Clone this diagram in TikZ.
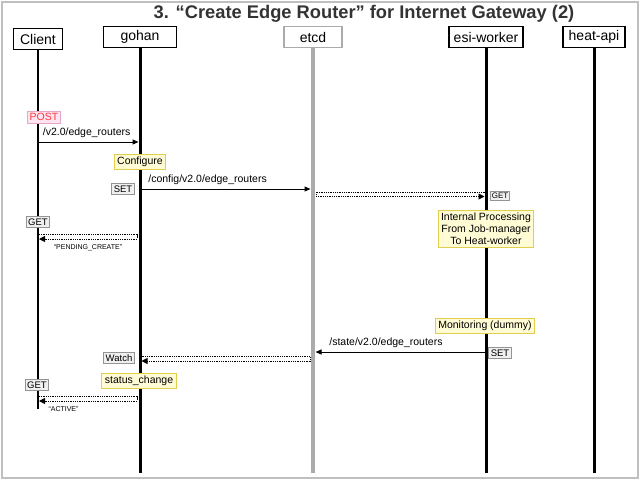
\documentclass[tikz,border=0pt]{standalone}
\usepackage{fontspec}
\setmainfont{Liberation Sans}
\usetikzlibrary{arrows.meta}

\definecolor{notefill}{HTML}{FFFBD4}
\definecolor{notedraw}{HTML}{E2CE4E}
\definecolor{postfill}{HTML}{FCE4F2}
\definecolor{postdraw}{HTML}{E6A6C6}
\definecolor{posttext}{HTML}{FF3B3B}
\definecolor{opfill}{HTML}{F0F0F0}
\definecolor{opdraw}{HTML}{949494}
\definecolor{etcdgray}{HTML}{ABABAB}
\definecolor{titlegray}{HTML}{333333}

\begin{document}
\begin{tikzpicture}[x=1pt,y=-1pt]
\tikzstyle{every node}+=[font=\fontsize{10.5}{12}\selectfont]
\tikzstyle{head}=[draw=black,line width=1.2pt,fill=white,font=\fontsize{14}{16}\selectfont,minimum height=21pt,inner sep=1pt]
\tikzstyle{note}=[draw=notedraw,fill=notefill,line width=1pt,inner sep=3pt,align=center]
\tikzstyle{op}=[draw=opdraw,fill=opfill,line width=0.8pt,inner sep=2pt,font=\fontsize{9.5}{11}\selectfont]
\tikzstyle{call}=[line width=1pt,-{Triangle[length=6pt,width=5pt]}]
\tikzstyle{rail}=[line width=0.9pt,dash pattern=on 0.9pt off 0.9pt]
\tikzstyle{railtip}=[rail,-{Triangle[length=6pt,width=6pt]}]
\tikzstyle{small}=[font=\fontsize{7}{8}\selectfont]
\useasboundingbox (0,0) rectangle (640,480);
\draw [black!25,line width=1.5pt] (2,2) rectangle (638,478);
\node [titlegray,font=\bfseries\fontsize{18.3}{20}\selectfont] (title) at (364,14) {3. “Create Edge Router” for Internet Gateway (2)};
\node [head,minimum width=49pt] (client) at (38,39) {Client};
\node [head,minimum width=73pt] (gohan) at (140,37) {gohan};
\node [head,draw=etcdgray,minimum width=58pt] (etcd) at (313,37) {etcd};
\node [head,minimum width=74pt] (esi) at (486,37) {esi-worker};
\node [head,minimum width=62pt] (heat) at (594,37) {heat-api};
\coordinate (clientend) at (client |- 0,409);
\coordinate (gohanend) at (gohan |- 0,473);
\coordinate (etcdend) at (etcd |- 0,473);
\coordinate (esiend) at (esi |- 0,473);
\coordinate (heatend) at (heat |- 0,473);
\draw [line width=1.2pt] (client.south) -- (clientend);
\draw [line width=3pt] (gohan.south) -- (gohanend);
\draw [etcdgray,line width=4.5pt] (etcd.south) -- (etcdend);
\draw [line width=3pt] (esi.south) -- (esiend);
\draw [line width=3pt] (heat.south) -- (heatend);
\node [draw=postdraw,fill=postfill,text=posttext,line width=0.8pt,inner sep=2.3pt] (post) at (44,117) {POST};
\draw [call] (client |- 0,142) -- ([xshift=-1.5pt]gohan |- 0,142) node [pos=0,above right,xshift=1pt] (req1) {/v2.0/edge\_routers};
\node [note] (configure) at (140,162) {Configure};
\node [op] (set1) at (123,189) {SET};
\draw [call] ([xshift=1.5pt]gohan |- 0,189) -- ([xshift=-2.5pt]etcd |- 0,189) node [pos=0,above right,xshift=3pt] (req2) {/config/v2.0/edge\_routers};
\coordinate (r1a) at ([xshift=3pt]etcd |- 0,196.5);
\coordinate (r1b) at ([xshift=-1.5pt]esi |- 0,196.5);
\draw [rail] (r1a) -- ([yshift=4.5pt]r1a) -- ([yshift=4.5pt]r1b);
\draw [railtip] (r1a) -- (r1b);
\node [op,font=\fontsize{8}{9}\selectfont,inner sep=1.5pt] (get1) at (500,196) {GET};
\node [note] (internal) at (486,229) {Internal Processing\\From Job-manager\\To Heat-worker};
\node [op] (get2) at (38,222) {GET};
\coordinate (r2a) at ([xshift=-3pt]gohan |- 0,239);
\coordinate (r2b) at ([xshift=1pt]client |- 0,239);
\draw [rail] ([yshift=4.5pt]r2b) -- ([yshift=4.5pt]r2a) -- (r2a);
\draw [railtip] (r2a) -- (r2b) node [pos=0.5,below,small,yshift=-1.5pt] (pending) {“PENDING\_CREATE”};
\node [note] (monitor) at (485,326) {Monitoring (dummy)};
\draw [call] ([xshift=-1.5pt]esi |- 0,352) -- ([xshift=2.5pt]etcd |- 0,352) node [pos=1,above right,xshift=10pt] (req3) {/state/v2.0/edge\_routers};
\node [op] (set2) at (500,353) {SET};
\coordinate (r3a) at ([xshift=-3pt]etcd |- 0,361);
\coordinate (r3b) at ([xshift=1.5pt]gohan |- 0,361);
\draw [rail] ([yshift=4.5pt]r3b) -- ([yshift=4.5pt]r3a) -- (r3a);
\draw [railtip] (r3a) -- (r3b);
\node [op] (watch) at (119,358) {Watch};
\node [note] (status) at (139,381) {status\_change};
\node [op] (get3) at (37,385) {GET};
\coordinate (r4a) at ([xshift=-3pt]gohan |- 0,401);
\coordinate (r4b) at ([xshift=1pt]client |- 0,401);
\draw [rail] ([yshift=4.5pt]r4b) -- ([yshift=4.5pt]r4a) -- (r4a);
\draw [railtip] (r4a) -- (r4b) node [pos=0.75,below,small,yshift=-1.5pt] (active) {“ACTIVE”};
\end{tikzpicture}
\end{document}
